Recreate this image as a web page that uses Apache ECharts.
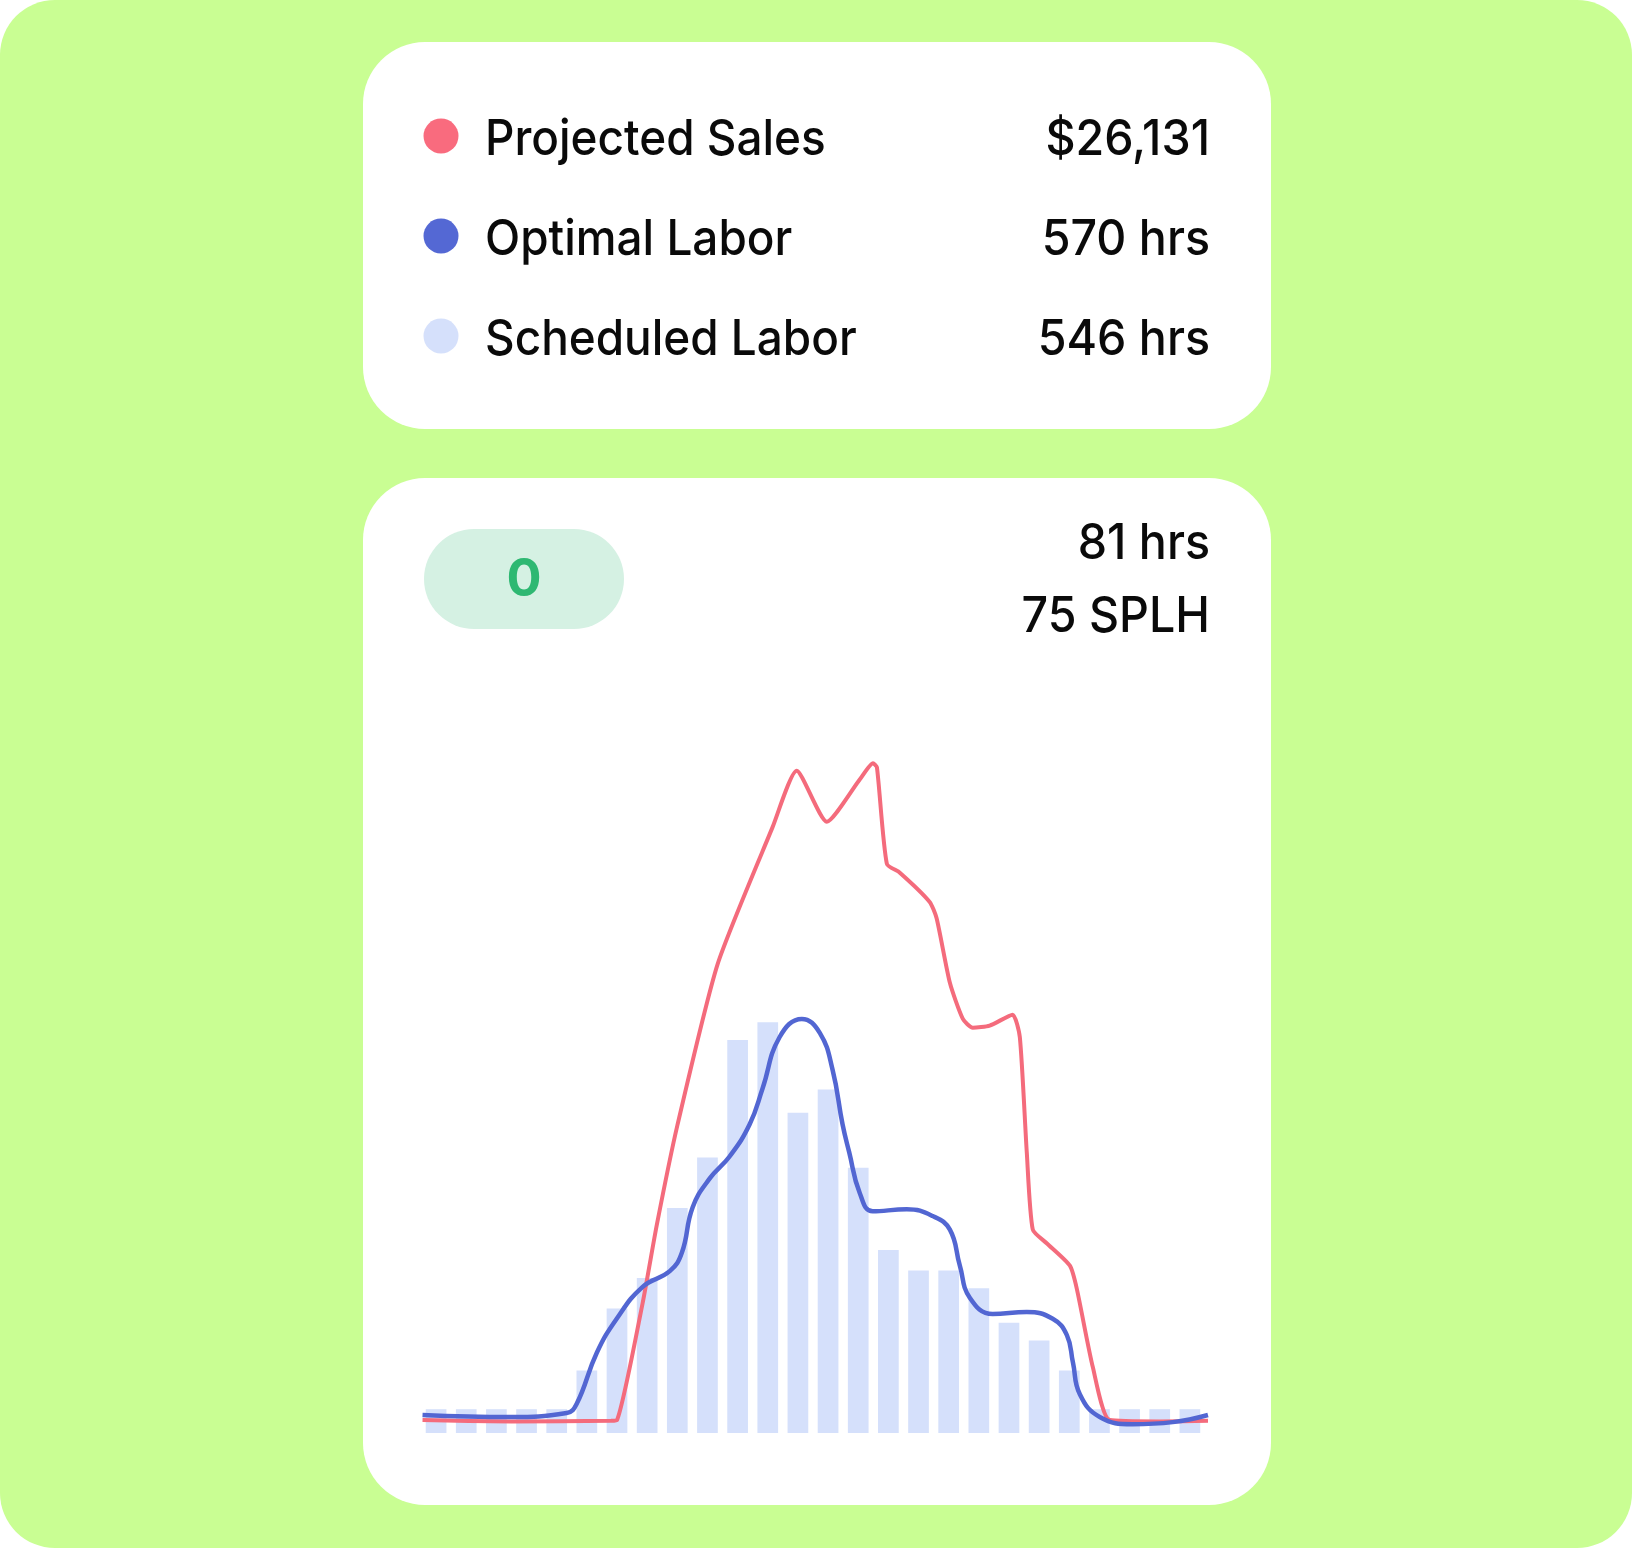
<!DOCTYPE html>
<html>
<head>
<meta charset="utf-8">
<script src="https://cdn.jsdelivr.net/npm/echarts@6/dist/echarts.min.js"></script>
<style>
  html, body { margin: 0; padding: 0; background: #ffffff; }
  #chart { width: 1632px; height: 1548px; }
</style>
</head>
<body>
<div id="chart"></div>
<script>
// ---- Legend / summary values ----
const seriesNames = ['Projected Sales', 'Optimal Labor', 'Scheduled Labor'];
const seriesTotals = ['$26,131', '570 hrs', '546 hrs'];
const seriesColors = ['#F96B7E', '#5468D4', '#D5E0FB'];
const badgeValue = '0';
const statLines = ['81 hrs', '75 SPLH'];

// ---- Scheduled labor per slot (hours), one bar per slot ----
const scheduledLabor = [3.5, 3.5, 3.5, 3.5, 3.5, 9.2, 18.3, 22.8, 33.1, 40.5, 57.8, 60.4, 47.1,
                        50.5, 39.0, 26.9, 23.9, 23.9, 21.3, 16.2, 13.6, 9.2, 3.5, 3.5, 3.5, 3.5];

// ---- Optimal labor curve: slot position, hours ----
const optimalX = [0.05, 2.94, 4.83, 5.16, 5.83, 6.49, 7.35, 8.25, 8.65, 9.01, 9.57, 10.24, 10.9, 11.33,
                  11.89, 12.63, 13.23, 13.65, 13.98, 14.2, 14.55, 14.98, 16.11, 16.97, 17.54, 17.87,
                  18.2, 18.96, 20.09, 20.95, 21.42, 21.62, 21.85, 22.51, 23.6, 24.93, 26.1];
const optimalY = [2.65, 2.35, 2.94, 4.26, 11.8, 16.8, 21.5, 23.8, 26.5, 33.2, 37.4, 40.7, 45.4, 50.7,
                  58.2, 60.9, 58.8, 53.4, 45.4, 41.3, 35.3, 32.6, 32.9, 31.9, 29.9, 24.6,
                  19.9, 17.5, 17.8, 16.8, 14.4, 10.4, 5.7, 2.35, 1.3, 1.6, 2.65];

// ---- Projected sales curve: slot position, relative level ----
const salesX = [0.05, 3, 6.3, 6.5, 7.35, 7.82, 8.5, 9.84, 11.66, 12.46, 13.46, 14.55, 14.99, 15.12,
                15.45, 15.88, 16.87, 17.1, 17.54, 17.97, 18.3, 18.86, 19.62, 19.86, 20.09, 20.29,
                20.75, 21.52, 21.75, 22.28, 22.84, 24.5, 26.1];
const salesY = [1.9, 1.7, 1.8, 1.9, 19.1, 30.6, 45.2, 69.0, 89.1, 97.4, 89.9, 96.1, 98.5, 97.9,
                83.7, 82.4, 78.1, 75.7, 66.2, 60.9, 59.6, 59.9, 61.5, 58.2, 41.3, 29.9,
                27.9, 24.6, 21.2, 9.7, 1.9, 1.7, 1.8];

const FONT = '"Inter", "Noto Sans", sans-serif';
const TEXT_COLOR = '#0A0A0A';
const NAME_SCALE = 0.918;
const NUM_SCALE = 0.932;

const barData = scheduledLabor.map((v, i) => [i + 0.5, v]);
const optimalData = optimalX.map((x, i) => [x, optimalY[i]]);
const salesData = salesX.map((x, i) => [x, salesY[i]]);

function label(text, x, y, align, scale, font, fill) {
  return { type: 'text', z: 10, x: x, y: y, scaleX: scale, scaleY: 1,
    style: { text: text, fill: fill || TEXT_COLOR, font: font || ('500 50px ' + FONT),
      align: align, verticalAlign: 'middle', textAlign: align, textVerticalAlign: 'middle' } };
}

const rowY = [138, 238, 338];
const elements = [
  { type: 'rect', z: 0, shape: { x: 0, y: 0, width: 1632, height: 1548, r: 55 }, style: { fill: '#C9FE93' } },
  { type: 'rect', z: 1, shape: { x: 363, y: 42, width: 908, height: 387, r: 62 }, style: { fill: '#ffffff' } },
  { type: 'rect', z: 1, shape: { x: 363, y: 478, width: 908, height: 1027, r: 62 }, style: { fill: '#ffffff' } },
  { type: 'rect', z: 5, shape: { x: 424, y: 529, width: 200, height: 100, r: 50 }, style: { fill: '#D5F1E3' } },
  label(badgeValue, 524, 580, 'center', 1, '700 52px ' + FONT, '#2EB872'),
  label(statLines[0], 1210, 544, 'right', NUM_SCALE),
  label(statLines[1], 1210, 617, 'right', NUM_SCALE)
];
seriesNames.forEach((name, i) => {
  elements.push({ type: 'circle', z: 10, shape: { cx: 441, cy: rowY[i] - 2, r: 17.5 }, style: { fill: seriesColors[i] } });
  elements.push(label(name, 485, rowY[i] + 2, 'left', NAME_SCALE));
  elements.push(label(seriesTotals[i], 1210, rowY[i] + 2, 'right', NUM_SCALE));
});

const chart = echarts.init(document.getElementById('chart'), null, { renderer: 'canvas' });
chart.setOption({
  backgroundColor: '#ffffff',
  animation: false,
  graphic: { elements: elements },
  grid: { left: 418, top: 753, width: 793, height: 680 },
  xAxis: { type: 'value', min: -0.1, max: 26.2, show: false },
  yAxis: { type: 'value', min: 0, max: 100, show: false },
  series: [
    { name: seriesNames[2], type: 'bar', z: 3, barWidth: 20.7, data: barData,
      itemStyle: { color: seriesColors[2] } },
    { name: seriesNames[0], type: 'line', z: 4, data: salesData, smooth: 0.2, showSymbol: false, clip: false,
      lineStyle: { color: '#F46B7C', width: 4 } },
    { name: seriesNames[1], type: 'line', z: 5, data: optimalData, smooth: 0.45, showSymbol: false, clip: false,
      lineStyle: { color: '#5266D2', width: 4.5 } }
  ]
});
</script>
</body>
</html>
